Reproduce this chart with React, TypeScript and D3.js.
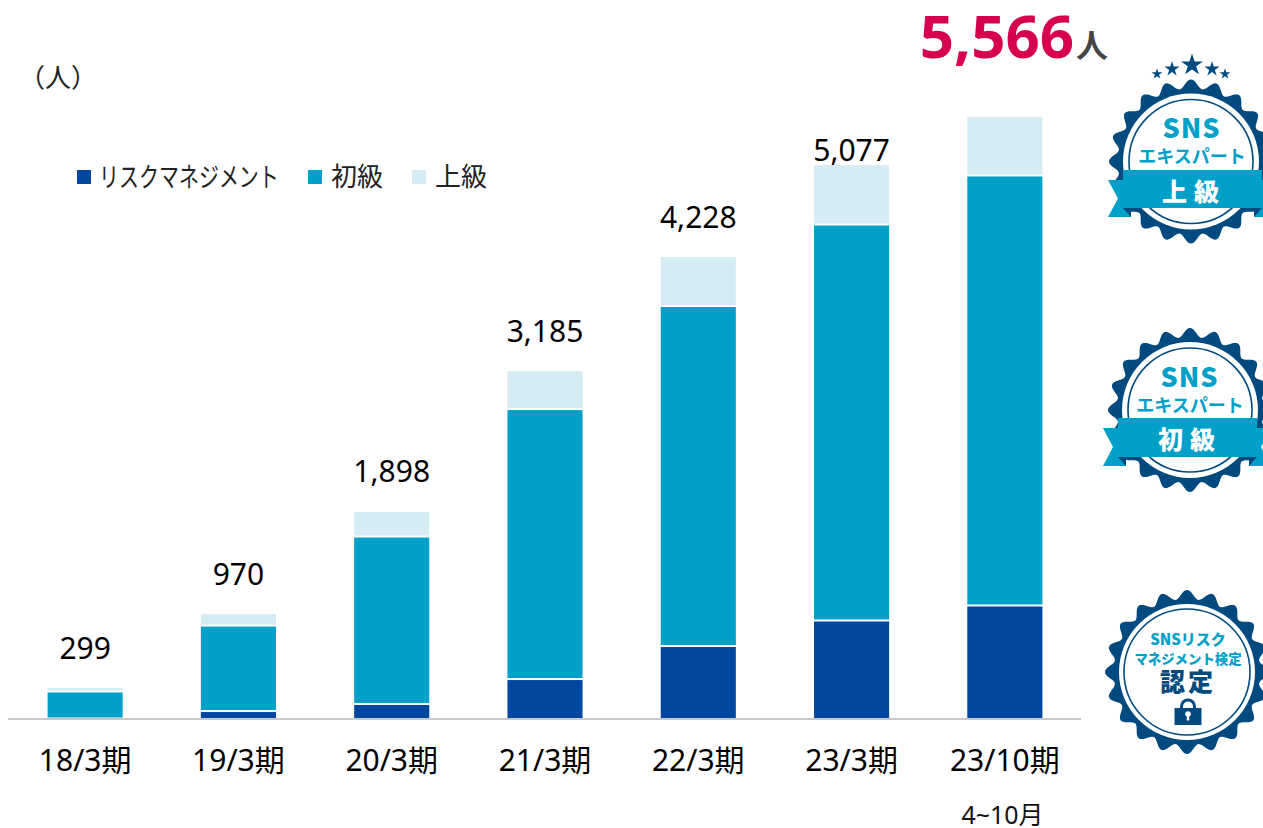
import React from "react";
import * as d3 from "d3";

const categories = ["18/3期", "19/3期", "20/3期", "21/3期", "22/3期", "23/3期", "23/10期"];
const riskValues = [0, 69, 134, 365, 671, 907, 1046];
const basicValues = [250, 791, 1550, 2498, 3146, 3664, 3979];
const advancedValues = [32, 106, 227, 352, 453, 551, 541];
const totalLabels = ["299", "970", "1,898", "3,185", "4,228", "5,077", ""];
const seriesNames = ["リスクマネジメント", "初級", "上級"];
const seriesColors = ["#0047a0", "#00a0c8", "#d6ecf4"];

const FONT = "'Noto Sans','Noto Sans CJK JP',sans-serif";
const CJK = "'Noto Sans CJK JP',sans-serif";
const NAVY = "#004a80";
const CYAN = "#00a0c8";

const x = d3.scaleBand<string>().domain(categories).range([8.5, 1081.5]).paddingInner(0.51).paddingOuter(0.255);
const y = d3.scaleLinear().domain([0, 5566]).range([718.5, 117]);

const rows = categories.map((c, i) => ({ c, risk: riskValues[i], basic: basicValues[i], adv: advancedValues[i] }));
const stack = d3.stack<any>().keys(["risk", "basic", "adv"])(rows);

function scallop(r: number, amp: number, lobes: number) {
  const pts: [number, number][] = d3.range(0, 360).map((i) => {
    const t = (i / 360) * 2 * Math.PI;
    return [t, r + amp * Math.cos(lobes * t)];
  });
  return d3.lineRadial().curve(d3.curveLinearClosed)(pts) as string;
}

function Seal({ cx, cy, ring = 62 }: { cx: number; cy: number; ring?: number }) {
  return (
    <g transform={`translate(${cx},${cy})`}>
      <path d={scallop(77.5, 4.5, 20)} fill={NAVY} />
      <circle r={68} fill="#fff" />
      <circle r={ring} fill="none" stroke={NAVY} strokeWidth={1.6} />
    </g>
  );
}

function Ribbon({ left, right, top, bottom, tailLeft, tailRight, drop, label, labelX, labelY }: any) {
  const tailTop = top + 10;
  const tailBot = bottom + drop;
  const mid = (tailTop + tailBot) / 2;
  return (
    <g>
      <polygon
        points={`${tailLeft},${tailTop} ${left + 8},${tailTop} ${left + 8},${tailBot} ${tailLeft},${tailBot} ${tailLeft + 10},${mid}`}
        fill={CYAN}
      />
      <polygon
        points={`${tailRight},${tailTop} ${right - 8},${tailTop} ${right - 8},${tailBot} ${tailRight},${tailBot} ${tailRight - 10},${mid}`}
        fill={CYAN}
      />
      <polygon points={`${left},${bottom} ${left + 8},${bottom} ${left + 8},${tailBot}`} fill={NAVY} />
      <polygon points={`${right},${bottom} ${right - 8},${bottom} ${right - 8},${tailBot}`} fill={NAVY} />
      <rect x={left} y={top} width={right - left} height={bottom - top} fill={CYAN} />
      <text x={labelX} y={labelY} fontFamily={CJK} fontWeight={900} fontSize={25} fill="#fff" letterSpacing={7}>
        {label}
      </text>
    </g>
  );
}

function Star({ cx, cy, size }: { cx: number; cy: number; size: number }) {
  return <path transform={`translate(${cx},${cy})`} d={d3.symbol(d3.symbolStar, size)() as string} fill={NAVY} />;
}

export default function App() {
  const bw = x.bandwidth();
  return (
    <svg width={1263} height={828} style={{ position: "absolute", left: 0, top: 0, background: "#fff" }} fontFamily={FONT}>
      {stack.map((s, si) =>
        s.map((d, i) => {
          const h = y(d[0]) - y(d[1]);
          if (h <= 0) return null;
          const top = y(d[1]);
          const gapTop = si === 2 ? 0 : 1;
          const gapBottom = si === 0 ? 0 : 1;
          return (
            <rect
              key={`${si}-${i}`}
              x={x(categories[i])}
              y={top + gapTop}
              width={bw}
              height={Math.max(h - gapTop - gapBottom, 0.5)}
              fill={seriesColors[si]}
            />
          );
        })
      )}
      <line x1={8} x2={1081} y1={719} y2={719} stroke="#c8c8c8" strokeWidth={2} />

      {categories.map((c) => (
        <text key={c} x={x(c)! + bw / 2} y={771} textAnchor="middle" fontSize={30} fill="#000">
          {c}
        </text>
      ))}
      <text x={1002.5} y={824} textAnchor="middle" fontSize={25} fill="#111">4~10月</text>

      {totalLabels.map((t, i) => {
        if (!t) return null;
        const top = y(riskValues[i] + basicValues[i] + advancedValues[i]);
        const yy = t === "5,077" ? 161 : top - 29.5;
        return (
          <text key={t} x={x(categories[i])! + bw / 2} y={yy} textAnchor="middle" fontSize={30} fill="#000">
            {t}
          </text>
        );
      })}

      <text x={997} y={58} textAnchor="middle" fontSize={60} fontWeight={700} fill="#d6004f">5,566</text>
      <text x={1076} y={57} fontFamily={CJK} fontSize={32} fontWeight={700} fill="#444">人</text>
      <text x={19} y={87} fontFamily={CJK} fontSize={26} fill="#222">（人）</text>

      {[77, 308, 412].map((lx, i) => (
        <rect key={lx} x={lx} y={170} width={14} height={14} fill={seriesColors[i]} />
      ))}
      <text transform="translate(99,187) scale(0.74,1)" fontFamily={CJK} fontSize={27} fill="#222">{seriesNames[0]}</text>
      <text x={331} y={186} fontFamily={CJK} fontSize={26} fill="#222">{seriesNames[1]}</text>
      <text x={435} y={186} fontFamily={CJK} fontSize={26} fill="#222">{seriesNames[2]}</text>

      {/* 上級 badge */}
      <Star cx={1192} cy={65} size={150} />
      <Star cx={1172} cy={69} size={70} />
      <Star cx={1212} cy={69} size={70} />
      <Star cx={1157} cy={74} size={36} />
      <Star cx={1225} cy={74} size={36} />
      <Seal cx={1191} cy={161.5} />
      <text x={1191.5} y={138} textAnchor="middle" fontFamily={CJK} fontWeight={900} fontSize={27} fill={CYAN} letterSpacing={1}>SNS</text>
      <text x={1192} y={163} textAnchor="middle" fontFamily={CJK} fontWeight={700} fontSize={18} fill={CYAN}>エキスパート</text>
      <Ribbon left={1123} right={1262} top={170} bottom={208} tailLeft={1108} tailRight={1276} drop={9} label="上級" labelX={1162} labelY={201} />

      {/* 初級 badge */}
      <Seal cx={1190} cy={410} />
      <text x={1189.5} y={387} textAnchor="middle" fontFamily={CJK} fontWeight={900} fontSize={27} fill={CYAN} letterSpacing={1}>SNS</text>
      <text x={1190} y={411.5} textAnchor="middle" fontFamily={CJK} fontWeight={700} fontSize={18} fill={CYAN}>エキスパート</text>
      <Ribbon left={1118} right={1257} top={418} bottom={457} tailLeft={1103} tailRight={1271} drop={9} label="初級" labelX={1158} labelY={449} />

      {/* 認定 badge */}
      <Seal cx={1187} cy={672} ring={63} />
      <text x={1188} y={645} textAnchor="middle" fontFamily={CJK} fontWeight={900} fontSize={15} fill={CYAN}>SNSリスク</text>
      <text x={1188} y={664} textAnchor="middle" fontFamily={CJK} fontWeight={900} fontSize={13.4} fill={CYAN}>マネジメント検定</text>
      <text x={1188} y={691} textAnchor="middle" fontFamily={CJK} fontWeight={900} fontSize={25} fill={NAVY} letterSpacing={3}>認定</text>
      <g transform="translate(1188,708)">
        <rect x={-13.5} y={0} width={27} height={17} fill={NAVY} />
        <path d="M-6.5,0 V-1.5 A6.5,6.5 0 0 1 6.5,-1.5 V0" fill="none" stroke={NAVY} strokeWidth={3} />
        <circle cy={6} r={2.8} fill="#fff" />
        <rect x={-1.2} y={6} width={2.4} height={6.5} fill="#fff" />
      </g>
    </svg>
  );
}
